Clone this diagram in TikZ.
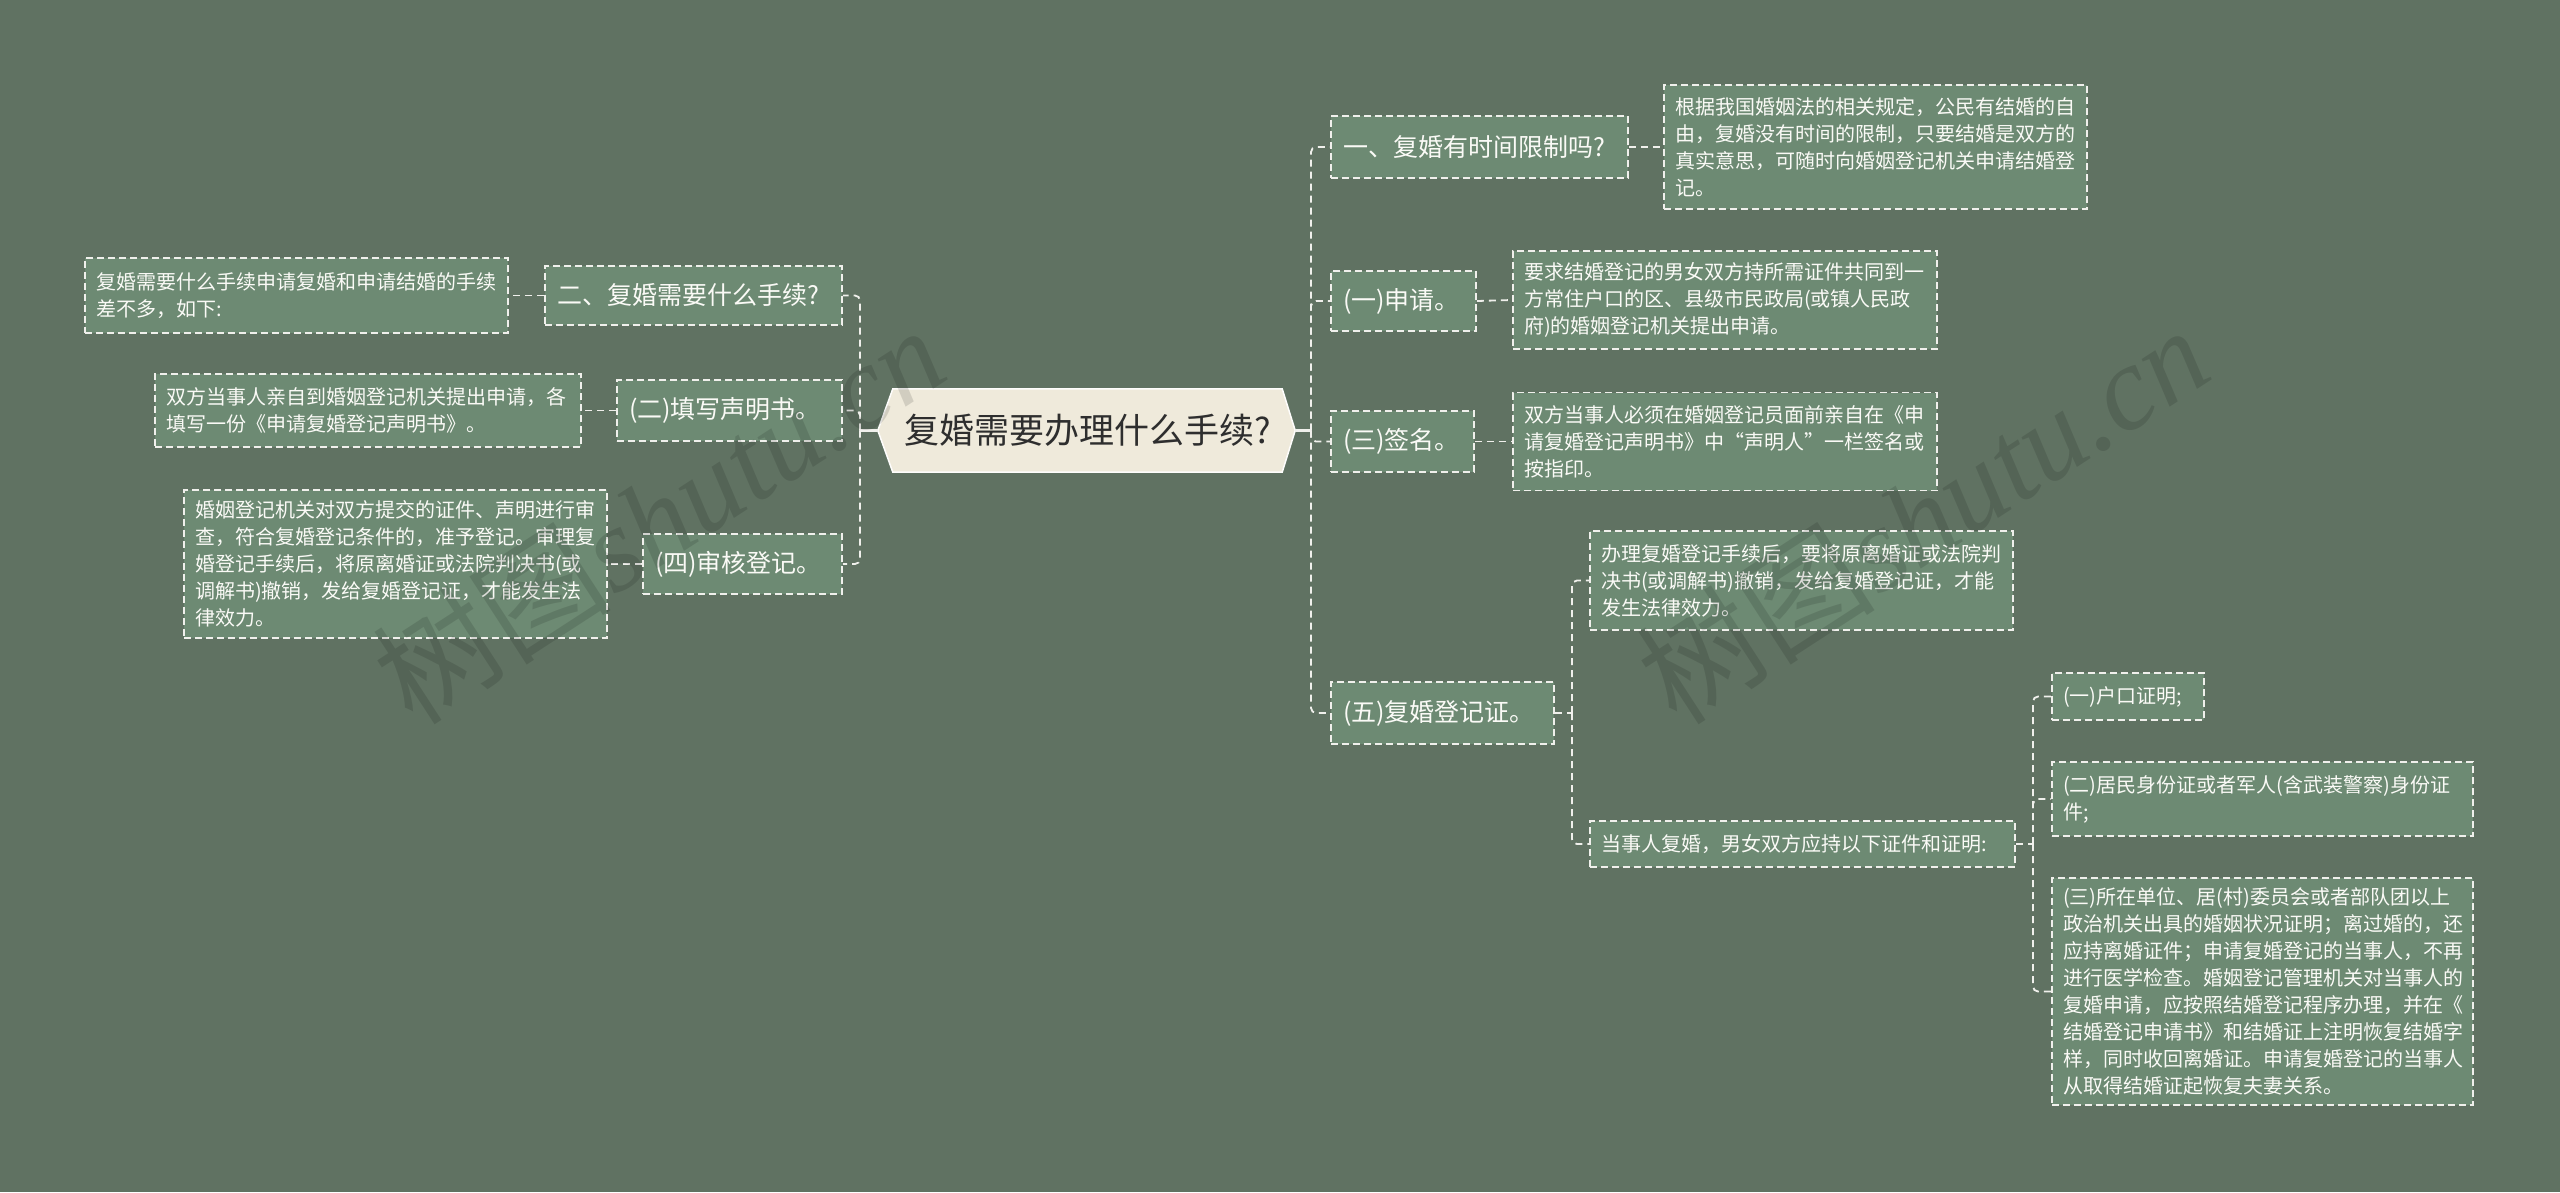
\documentclass[tikz,border=0pt]{standalone}
\usepackage{fontspec}
\setmainfont{Noto Sans CJK SC}
\newfontfamily\wmlatin{Liberation Serif}
\usetikzlibrary{calc}
\pgfdeclarelayer{bglayer}
\pgfsetlayers{bglayer,main}
\definecolor{bgc}{HTML}{607262}
\definecolor{boxc}{HTML}{6D8A73}
\definecolor{lnc}{HTML}{F0F0EC}
\definecolor{rootc}{HTML}{EFEADB}
\definecolor{roottxt}{HTML}{2E2E2E}
\definecolor{boxtxt}{HTML}{FAFAF6}
\tikzset{
  conn/.style={draw=lnc, line width=1.8pt, dash pattern=on 7pt off 5pt, rounded corners=5pt},
  rootlink/.style={draw=lnc, line width=2.6pt},
  boxbase/.style={draw=lnc, fill=boxc, line width=1.8pt, dash pattern=on 7pt off 4pt,
    text=boxtxt, inner ysep=0pt, align=left},
  branch/.style={boxbase, inner xsep=12pt, font=\fontsize{25}{30}\selectfont},
  detail/.style={boxbase, inner xsep=11pt, font=\fontsize{20}{27}\selectfont},
  wmark/.style={rotate=33, text=black, opacity=0.12, inner sep=0pt},
}
\begin{document}
\begin{tikzpicture}[x=1pt,y=-1pt]
\begin{pgfonlayer}{bglayer}
\fill[bgc] (0,0) rectangle (2560,1192);
\end{pgfonlayer}
\useasboundingbox (0,0) rectangle (2560,1192);

% root
\node[minimum width=389pt, minimum height=83pt, inner sep=0pt, text=roottxt,
      font=\fontsize{35}{42}\selectfont] (root) at (1087.5,430.5) {复婚需要办理什么手续?\hspace{19pt}};
\coordinate (rootR) at ($(root.east)+(13pt,0)$);
\coordinate (rootL) at ($(root.west)+(-15pt,0)$);
\begin{pgfonlayer}{bglayer}
\filldraw[fill=rootc, draw=white!92!rootc, line width=1.5pt]
  (root.north west) -- (root.north east) -- (rootR) -- (root.south east)
  -- (root.south west) -- (rootL) -- cycle;
\end{pgfonlayer}

% left side
\node[branch, text width=273pt, minimum height=59pt] (L1) at (693.5,295.5) {二、复婚需要什么手续?};
\node[detail, text width=401pt, minimum height=75pt] (L1d) at (296.5,295.5)
  {复婚需要什么手续申请复婚和申请结婚的手续\\差不多，如下:};
\node[branch, text width=201pt, minimum height=61pt] (L2) at (729.5,410.5) {(二)填写声明书。};
\node[detail, text width=404pt, minimum height=73pt] (L2d) at (368,410.5)
  {双方当事人亲自到婚姻登记机关提出申请，各\\填写一份《申请复婚登记声明书》。};
\node[branch, text width=175pt, minimum height=60pt] (L3) at (742.5,564) {(四)审核登记。};
\node[detail, text width=401pt, minimum height=148pt] (L3d) at (395.5,564)
  {婚姻登记机关对双方提交的证件、声明进行审\\查，符合复婚登记条件的，准予登记。审理复\\婚登记手续后，将原离婚证或法院判决书(或\\调解书)撤销，发给复婚登记证，才能发生法\\律效力。};

% right side
\node[branch, text width=273pt, minimum height=62pt] (R1) at (1479.5,147) {一、复婚有时间限制吗?};
\node[detail, text width=401pt, minimum height=124pt] (R1d) at (1875.5,147)
  {根据我国婚姻法的相关规定，公民有结婚的自\\由，复婚没有时间的限制，只要结婚是双方的\\真实意思，可随时向婚姻登记机关申请结婚登\\记。};
\node[branch, text width=121pt, minimum height=60pt] (R2) at (1403.5,301) {(一)申请。};
\node[detail, text width=402pt, minimum height=98pt] (R2d) at (1725,300)
  {要求结婚登记的男女双方持所需证件共同到一\\方常住户口的区、县级市民政局(或镇人民政\\府)的婚姻登记机关提出申请。};
\node[branch, text width=119pt, minimum height=61pt] (R3) at (1402.5,441.5) {(三)签名。};
\node[detail, text width=402pt, minimum height=98pt] (R3d) at (1725,441.5)
  {双方当事人必须在婚姻登记员面前亲自在《申\\请复婚登记声明书》中“声明人”一栏签名或\\按指印。};
\node[branch, text width=199pt, minimum height=62pt] (R4) at (1442.5,713) {(五)复婚登记证。};
\node[detail, text width=401pt, minimum height=99pt] (R4a) at (1801.5,580.5)
  {办理复婚登记手续后，要将原离婚证或法院判\\决书(或调解书)撤销，发给复婚登记证，才能\\发生法律效力。};
\node[detail, text width=403pt, minimum height=46pt] (R4b) at (1802.5,844)
  {当事人复婚，男女双方应持以下证件和证明:};
\node[detail, text width=130pt, minimum height=47pt] (C1) at (2128,696.5) {(一)户口证明;};
\node[detail, text width=399pt, minimum height=74pt] (C2) at (2262.5,799)
  {(二)居民身份证或者军人(含武装警察)身份证\\件;};
\node[detail, text width=399pt, minimum height=227pt] (C3) at (2262.5,991.5)
  {(三)所在单位、居(村)委员会或者部队团以上\\政治机关出具的婚姻状况证明；离过婚的，还\\应持离婚证件；申请复婚登记的当事人，不再\\进行医学检查。婚姻登记管理机关对当事人的\\复婚申请，应按照结婚登记程序办理，并在《\\结婚登记申请书》和结婚证上注明恢复结婚字\\样，同时收回离婚证。申请复婚登记的当事人\\从取得结婚证起恢复夫妻关系。};

% junctions
\coordinate (lj) at (860,430.5);
\coordinate (rj) at (1311,430.5);
\coordinate (r4j) at (1572,713);
\coordinate (r4bj) at (2033,844);

% connectors
\draw[rootlink] (rootL) -- (lj);
\draw[rootlink] (rootR) -- (rj);
\draw[conn] (lj) |- (L1.east);
\draw[conn] (lj) |- (L2.east);
\draw[conn] (lj) |- (L3.east);
\draw[conn] (rj) |- (R1.west);
\draw[conn] (rj) |- (R2.west);
\draw[conn] (rj) |- (R3.west);
\draw[conn] (rj) |- (R4.west);
\draw[conn] (L1.west) -- (L1d.east);
\draw[conn] (L2.west) -- (L2d.east);
\draw[conn] (L3.west) -- (L3d.east);
\draw[conn] (R1.east) -- (R1d.west);
\draw[conn] (R2.east) -- (R2d.west);
\draw[conn] (R3.east) -- (R3d.west);
\draw[conn] (R4.east) -- (r4j);
\draw[conn] (r4j) |- (R4a.west);
\draw[conn] (r4j) |- (R4b.west);
\draw[conn] (R4b.east) -- (r4bj);
\draw[conn] (r4bj) |- (C1.west);
\draw[conn] (r4bj) |- (C2.west);
\draw[conn] (r4bj) |- (C3.west);

% watermarks
\node[wmark] (wm1) at (658,514) {\fontsize{120}{120}\selectfont 树图\wmlatin\itshape shutu.cn};
\node[wmark] (wm2) at (1922,514) {\fontsize{120}{120}\selectfont 树图\wmlatin\itshape shutu.cn};
\end{tikzpicture}
\end{document}
